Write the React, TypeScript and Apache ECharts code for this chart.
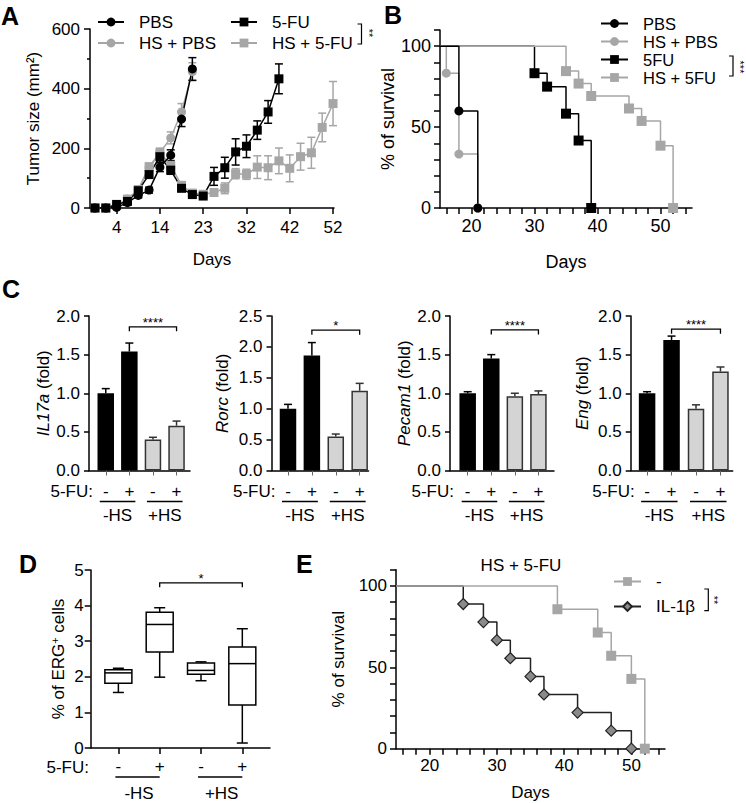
import React, { useEffect, useRef } from "react";
import * as echarts from "echarts";

const FONT = '"Liberation Sans", Arial, Helvetica, sans-serif';
const GRAY = "#a6a6a6";

// ---------- Panel A: tumor size ----------
const aDays = [0, 2, 4, 7, 9, 11, 14, 16, 18, 21, 23, 25, 28, 30, 32, 35, 37, 39, 42, 44, 46, 49, 52];
const aTickIdx = [2, 6, 10, 14, 18, 22];
const aPBS = [0, 0, 2, 18, 42, 60, 137, 177, 298, 466];
const aPBSErr = [0, 0, 3, 5, 8, 10, 15, 18, 25, 38];
const aHSPBS = [0, 0, 5, 30, 60, 135, 185, 235, 322, 457];
const aHSPBSErr = [0, 0, 3, 6, 10, 15, 15, 20, 28, 30];
const a5FU = [0, 0, 12, 22, 58, 112, 172, 127, 66, 45, 40, 106, 135, 188, 207, 261, 322, 433];
const a5FUErr = [0, 0, 4, 6, 8, 12, 18, 14, 10, 8, 8, 30, 35, 44, 38, 31, 38, 50];
const aHS5FU = [0, 0, 8, 30, 62, 138, 185, 143, 76, 50, 46, 52, 66, 115, 113, 137, 135, 158, 133, 172, 185, 270, 350];
const aHS5FUErr = [0, 0, 3, 6, 8, 12, 15, 15, 10, 8, 6, 10, 18, 17, 17, 38, 40, 43, 45, 45, 52, 48, 74];

// ---------- Panel B: survival ----------
const bPBSDays = [15, 18, 21];
const bPBSSurv = [100, 60, 0];
const bHSPBSDays = [15, 16, 18, 21];
const bHSPBSSurv = [100, 83.3, 33.3, 0];
const b5FUDays = [15, 30, 32, 35, 37, 39];
const b5FUSurv = [100, 83.3, 75, 58.3, 41.7, 0];
const bHS5FUDays = [15, 35, 37, 39, 45, 47, 50, 52];
const bHS5FUSurv = [100, 84.6, 76.9, 69.2, 61.5, 53.8, 38.5, 0];
const survTicks = [16, 18, 20, 22, 24, 26, 28, 30, 32, 34, 36, 38, 40, 42, 44, 46, 48, 50, 52, 54];
const survLabels = [20, 30, 40, 50];

// ---------- Panel C: qPCR bars ----------
const cGenes = ["IL17a", "Rorc", "Pecam1", "Eng"];
const cMax = [2.0, 2.5, 2.0, 2.0];
const cIL17a = [1.0, 1.54, 0.4, 0.58];
const cIL17aErr = [0.06, 0.11, 0.03, 0.06];
const cRorc = [1.0, 1.86, 0.55, 1.29];
const cRorcErr = [0.07, 0.21, 0.04, 0.12];
const cPecam1 = [1.0, 1.45, 0.96, 0.99];
const cPecam1Err = [0.02, 0.05, 0.04, 0.04];
const cEng = [1.0, 1.69, 0.8, 1.28];
const cEngErr = [0.02, 0.05, 0.05, 0.06];
const cSigY = [1.86, 2.27, 1.82, 1.83];
const cSigText = ["****", "*", "****", "****"];
const fuSigns = ["-", "+", "-", "+"];
const hsGroups = ["-HS", "+HS"];

// ---------- Panel D: box plots ----------
const dMin = [1.56, 1.99, 1.89, 0.14];
const dQ1 = [1.82, 2.7, 2.07, 1.21];
const dMedian = [2.11, 3.47, 2.18, 2.37];
const dQ3 = [2.2, 3.81, 2.39, 2.84];
const dMax = [2.24, 3.94, 2.42, 3.35];
const dSigY = 4.64;

// ---------- Panel E: survival IL-1b ----------
const eCtrlDays = [15, 39, 45, 47, 50, 52];
const eCtrlSurv = [100, 85.7, 71.4, 57.1, 42.9, 0];
const eILDays = [15, 25, 28, 30, 32, 35, 37, 42, 47, 50];
const eILSurv = [100, 88.9, 77.8, 66.7, 55.6, 44.4, 33.3, 22.2, 11.1, 0];

// ---------- layout ----------
const grids = [
  { left: 90, top: 29, width: 244, height: 179 }, // A
  { left: 440, top: 30, width: 252, height: 178 }, // B
  { left: 89, top: 316, width: 101, height: 154.5 }, // C1
  { left: 271.5, top: 316, width: 97, height: 154.5 }, // C2
  { left: 450, top: 316, width: 104, height: 154.5 }, // C3
  { left: 630.7, top: 316, width: 102, height: 154.5 }, // C4
  { left: 90.7, top: 570, width: 179.3, height: 178 }, // D
  { left: 396, top: 569.7, width: 269, height: 179 }, // E
];
const cXRange = [
  [-0.71, 3.57],
  [-0.69, 3.37],
  [-0.75, 3.66],
  [-0.67, 3.5],
];
const cNameGap = [29, 41, 37, 40];

const lineStyleAxis = { color: "#000", width: 1.5 };
const axLine = { show: true, onZero: false, lineStyle: lineStyleAxis };
const lbl = (size = 17, margin = 10) => ({ color: "#000", fontSize: size, fontFamily: FONT, margin });

function kmData(days: number[], surv: number[]) {
  return days.map((d, i) => (i === 0 ? { value: [d, surv[i]], symbol: "none" } : [d, surv[i]]));
}

function lineSeries(name: string, gi: number, data: any[], color: string, symbol: string, size: number, extra: any = {}) {
  return {
    type: "line",
    name,
    xAxisIndex: gi,
    yAxisIndex: gi,
    data,
    symbol,
    symbolSize: size,
    showSymbol: true,
    showAllSymbol: true,
    lineStyle: { color, width: 1.5 },
    itemStyle: { color, borderColor: color, borderWidth: 0 },
    emphasis: { disabled: true },
    silent: true,
    ...extra,
  };
}

function errSeries(gi: number, vals: number[], errs: number[], color: string, cap: number, oneSided: boolean, xs?: number[]) {
  return {
    type: "custom",
    xAxisIndex: gi,
    yAxisIndex: gi,
    silent: true,
    data: vals.map((v, i) => [xs ? xs[i] : i, v, errs[i]]),
    encode: { x: 0, y: 1 },
    renderItem: (params: any, api: any) => {
      const x = api.value(0);
      const y = api.value(1);
      const e = api.value(2);
      if (!e) return { type: "group", children: [] };
      const t = api.coord([x, y + e]);
      const b = api.coord([x, oneSided ? y : y - e]);
      const st = { stroke: color, lineWidth: 1.5 };
      const ch: any[] = [
        { type: "line", shape: { x1: t[0], y1: t[1], x2: b[0], y2: b[1] }, style: st },
        { type: "line", shape: { x1: t[0] - cap, y1: t[1], x2: t[0] + cap, y2: t[1] }, style: st },
      ];
      if (!oneSided) ch.push({ type: "line", shape: { x1: b[0] - cap, y1: b[1], x2: b[0] + cap, y2: b[1] }, style: st });
      return { type: "group", children: ch };
    },
  };
}

function bracketSeries(gi: number, x1: number, x2: number, y: number, label: string, drop: number, fontSize: number) {
  return {
    type: "custom",
    xAxisIndex: gi,
    yAxisIndex: gi,
    silent: true,
    data: [[x1, y, x2]],
    encode: { x: 0, y: 1 },
    renderItem: (params: any, api: any) => {
      const a = api.coord([api.value(0), api.value(1)]);
      const b = api.coord([api.value(2), api.value(1)]);
      return {
        type: "group",
        children: [
          {
            type: "polyline",
            shape: { points: [[a[0], a[1] + drop], [a[0], a[1]], [b[0], b[1]], [b[0], b[1] + drop]] },
            style: { stroke: "#000", lineWidth: 1.3, fill: null },
          },
          {
            type: "text",
            style: {
              text: label,
              x: (a[0] + b[0]) / 2,
              y: a[1] + 2,
              align: "center",
              verticalAlign: "bottom",
              font: `${fontSize}px ${FONT}`,
              fill: "#000",
            },
          },
        ],
      };
    },
  };
}

function groupSeries(gi: number, lineOff: number, textOff: number, padL: number, padR: number) {
  return {
    type: "custom",
    xAxisIndex: gi,
    yAxisIndex: gi,
    silent: true,
    data: [
      [0, 0, 1],
      [2, 0, 3],
    ],
    encode: { x: 0, y: 1 },
    renderItem: (params: any, api: any) => {
      const a = api.coord([api.value(0), 0]);
      const b = api.coord([api.value(2), 0]);
      const yl = a[1] + lineOff;
      return {
        type: "group",
        children: [
          {
            type: "line",
            shape: { x1: a[0] - padL, y1: yl, x2: b[0] + padR, y2: yl },
            style: { stroke: "#000", lineWidth: 1.3 },
          },
          {
            type: "text",
            style: {
              text: hsGroups[params.dataIndex],
              x: (a[0] + b[0]) / 2,
              y: a[1] + textOff,
              align: "center",
              verticalAlign: "middle",
              font: `17px ${FONT}`,
              fill: "#000",
            },
          },
        ],
      };
    },
  };
}

function barSeries(gi: number, vals: number[]) {
  return {
    type: "bar",
    xAxisIndex: gi,
    yAxisIndex: gi,
    barWidth: 16.5,
    silent: true,
    data: vals.map((v, i) => ({
      value: [i, v],
      itemStyle:
        i < 2
          ? { color: "#000", borderColor: "#000", borderWidth: 0 }
          : { color: "#d4d4d4", borderColor: "#333", borderWidth: 1.5 },
    })),
  };
}

function boxSeries(gi: number) {
  return {
    type: "custom",
    xAxisIndex: gi,
    yAxisIndex: gi,
    silent: true,
    data: dMin.map((m, i) => [i, m, dQ1[i], dMedian[i], dQ3[i], dMax[i]]),
    encode: { x: 0, y: 1 },
    renderItem: (params: any, api: any) => {
      const x = api.value(0);
      const c = (d: number) => api.coord([x, api.value(d)]);
      const pMn = c(1), pQ1 = c(2), pMd = c(3), pQ3 = c(4), pMx = c(5);
      const half = 13.5;
      const cap = 5.5;
      const st = { stroke: "#000", lineWidth: 1.5 };
      return {
        type: "group",
        children: [
          { type: "line", shape: { x1: pMx[0], y1: pMx[1], x2: pQ3[0], y2: pQ3[1] }, style: st },
          { type: "line", shape: { x1: pMx[0] - cap, y1: pMx[1], x2: pMx[0] + cap, y2: pMx[1] }, style: st },
          { type: "line", shape: { x1: pMn[0], y1: pMn[1], x2: pQ1[0], y2: pQ1[1] }, style: st },
          { type: "line", shape: { x1: pMn[0] - cap, y1: pMn[1], x2: pMn[0] + cap, y2: pMn[1] }, style: st },
          {
            type: "rect",
            shape: { x: pQ3[0] - half, y: pQ3[1], width: half * 2, height: pQ1[1] - pQ3[1] },
            style: { stroke: "#000", lineWidth: 1.5, fill: "#fff" },
          },
          { type: "line", shape: { x1: pMd[0] - half, y1: pMd[1], x2: pMd[0] + half, y2: pMd[1] }, style: st },
        ],
      };
    },
  };
}

function buildOption() {
  const xAxes: any[] = [];
  const yAxes: any[] = [];

  // A
  xAxes.push({
    gridIndex: 0,
    type: "value",
    min: -0.46,
    max: 22.09,
    name: "Days",
    nameLocation: "middle",
    nameGap: 43,
    nameTextStyle: { color: "#000", fontSize: 17, fontFamily: FONT },
    axisLine: axLine,
    axisTick: { customValues: aTickIdx, length: 6, lineStyle: lineStyleAxis },
    axisLabel: { ...lbl(17, 11), customValues: aTickIdx, formatter: (v: number) => String(aDays[v]) },
    splitLine: { show: false },
  });
  yAxes.push({
    gridIndex: 0,
    type: "value",
    min: 0,
    max: 600,
    interval: 200,
    name: "Tumor size (mm²)",
    nameLocation: "middle",
    nameGap: 48,
    nameTextStyle: { color: "#000", fontSize: 17, fontFamily: FONT },
    axisLine: axLine,
    axisTick: { show: true, length: 6, lineStyle: lineStyleAxis },
    minorTick: { show: true, splitNumber: 2, length: 3, lineStyle: lineStyleAxis },
    axisLabel: lbl(17, 10),
    splitLine: { show: false },
  });

  // B and E survival axes
  const survX = (gi: number, gap: number, size: number, margin: number) => ({
    gridIndex: gi,
    type: "value",
    min: 15,
    max: 55,
    name: "Days",
    nameLocation: "middle",
    nameGap: gap,
    nameTextStyle: { color: "#000", fontSize: size, fontFamily: FONT },
    axisLine: axLine,
    axisTick: { customValues: survTicks, length: 6, lineStyle: lineStyleAxis },
    axisLabel: { ...lbl(size, margin), customValues: survLabels },
    splitLine: { show: false },
  });
  const survY = (gi: number, gap: number, size: number) => ({
    gridIndex: gi,
    type: "value",
    min: 0,
    max: 110,
    interval: 10,
    name: "% of survival",
    nameLocation: "middle",
    nameGap: gap,
    nameTextStyle: { color: "#000", fontSize: size, fontFamily: FONT },
    axisLine: axLine,
    axisTick: { show: true, length: 6, lineStyle: lineStyleAxis },
    axisLabel: { ...lbl(size, 9), customValues: [0, 50, 100] },
    splitLine: { show: false },
  });
  xAxes.push(survX(1, 45, 18, 9));
  yAxes.push(survY(1, 43, 18));

  // C
  for (let k = 0; k < 4; k++) {
    xAxes.push({
      gridIndex: 2 + k,
      type: "value",
      min: cXRange[k][0],
      max: cXRange[k][1],
      axisLine: axLine,
      axisTick: { customValues: [0, 1, 2, 3], length: 5, lineStyle: { color: "#666", width: 1 } },
      axisLabel: { ...lbl(17, 12), customValues: [0, 1, 2, 3], formatter: (v: number) => fuSigns[v] },
      splitLine: { show: false },
    });
    yAxes.push({
      gridIndex: 2 + k,
      type: "value",
      min: 0,
      max: cMax[k],
      interval: 0.5,
      name: `{i|${cGenes[k]}} (fold)`,
      nameLocation: "middle",
      nameGap: cNameGap[k],
      nameTextStyle: {
        color: "#000",
        fontSize: 17,
        fontFamily: FONT,
        rich: { i: { fontStyle: "italic", fontSize: 17, fontFamily: FONT, color: "#000" } },
      },
      axisLine: axLine,
      axisTick: { show: true, length: 5, lineStyle: lineStyleAxis },
      axisLabel: { ...lbl(17, 9), formatter: (v: number) => v.toFixed(1) },
      splitLine: { show: false },
    });
  }

  // D
  xAxes.push({
    gridIndex: 6,
    type: "value",
    min: -0.67,
    max: 3.67,
    axisLine: axLine,
    axisTick: { customValues: [0, 1, 2, 3], length: 6, lineStyle: lineStyleAxis },
    axisLabel: { ...lbl(17, 10), customValues: [0, 1, 2, 3], formatter: (v: number) => fuSigns[v] },
    splitLine: { show: false },
  });
  yAxes.push({
    gridIndex: 6,
    type: "value",
    min: 0,
    max: 5,
    interval: 1,
    name: "% of ERG{s|+} cells",
    nameLocation: "middle",
    nameGap: 24,
    nameTextStyle: {
      color: "#000",
      fontSize: 17,
      fontFamily: FONT,
      rich: { s: { fontSize: 11, fontFamily: FONT, color: "#000", verticalAlign: "top", lineHeight: 17 } },
    },
    axisLine: axLine,
    axisTick: { show: true, length: 6, lineStyle: lineStyleAxis },
    axisLabel: lbl(17, 7),
    splitLine: { show: false },
  });

  // E
  xAxes.push(survX(7, 35, 17, 8));
  yAxes.push(survY(7, 49, 17));

  const series: any[] = [];
  // A
  const idx = (arr: number[]) => arr.map((v, i) => [i, v]);
  series.push(errSeries(0, aHSPBS, aHSPBSErr, GRAY, 4, false));
  series.push(lineSeries("HS + PBS", 0, idx(aHSPBS), GRAY, "circle", 9));
  series.push(errSeries(0, aHS5FU, aHS5FUErr, GRAY, 4, false));
  series.push(lineSeries("HS + 5-FU", 0, idx(aHS5FU), GRAY, "rect", 9));
  series.push(errSeries(0, a5FU, a5FUErr, "#000", 4, false));
  series.push(lineSeries("5-FU", 0, idx(a5FU), "#000", "rect", 9));
  series.push(errSeries(0, aPBS, aPBSErr, "#000", 4, false));
  series.push(lineSeries("PBS", 0, idx(aPBS), "#000", "circle", 9));

  // B
  series.push(lineSeries("5FU", 1, kmData(b5FUDays, b5FUSurv), "#000", "rect", 10, { step: "end" }));
  series.push(lineSeries("HS + 5FU", 1, kmData(bHS5FUDays, bHS5FUSurv), GRAY, "rect", 10, { step: "end" }));
  series.push(lineSeries("HS + PBS ", 1, kmData(bHSPBSDays, bHSPBSSurv), GRAY, "circle", 9, { step: "end" }));
  series.push(lineSeries("PBS ", 1, kmData(bPBSDays, bPBSSurv), "#000", "circle", 9, { step: "end" }));

  // C
  const cVals = [cIL17a, cRorc, cPecam1, cEng];
  const cErrs = [cIL17aErr, cRorcErr, cPecam1Err, cEngErr];
  for (let k = 0; k < 4; k++) {
    const gi = 2 + k;
    series.push(barSeries(gi, cVals[k]));
    series.push(errSeries(gi, cVals[k].slice(0, 2), cErrs[k].slice(0, 2), "#000", 4, true, [0, 1]));
    series.push(errSeries(gi, cVals[k].slice(2), cErrs[k].slice(2), "#333", 4, true, [2, 3]));
    series.push(bracketSeries(gi, 1, 3, cSigY[k], cSigText[k], 4.5, 13));
    series.push(groupSeries(gi, 31, 45, 6, 6));
  }

  // D
  series.push(boxSeries(6));
  series.push(bracketSeries(6, 1, 3, dSigY, "*", 4.5, 13));
  series.push(groupSeries(6, 29, 45, 3, 0));

  // E
  series.push(
    lineSeries("IL-1β", 7, kmData(eILDays, eILSurv), "#222", "diamond", 11, {
      step: "end",
      itemStyle: { color: "#8a8a8a", borderColor: "#222", borderWidth: 1.2 },
    })
  );
  series.push(lineSeries("-", 7, kmData(eCtrlDays, eCtrlSurv), GRAY, "rect", 10, { step: "end" }));

  const legendText = (lh: number, size = 17) => ({
    color: "#000",
    fontSize: size,
    fontFamily: FONT,
    lineHeight: lh,
    padding: [0, 0, 0, 10],
  });
  const legends = [
    {
      data: ["PBS", "HS + PBS"],
      orient: "vertical",
      left: 97,
      top: 13.5,
      itemWidth: 26,
      itemHeight: 11,
      itemGap: 4,
      padding: 0,
      selectedMode: false,
      textStyle: legendText(17),
    },
    {
      data: ["5-FU", "HS + 5-FU"],
      orient: "vertical",
      left: 230,
      top: 13.5,
      itemWidth: 26,
      itemHeight: 11,
      itemGap: 4,
      padding: 0,
      selectedMode: false,
      textStyle: legendText(17),
    },
    {
      data: ["PBS ", "HS + PBS ", "5FU", "HS + 5FU"],
      formatter: (n: string) => n.trim(),
      orient: "vertical",
      left: 600,
      top: 15,
      itemWidth: 27,
      itemHeight: 11,
      itemGap: 1,
      padding: 0,
      selectedMode: false,
      textStyle: legendText(15.5, 16.5),
    },
    {
      data: ["-", "IL-1β"],
      orient: "vertical",
      left: 613,
      top: 573,
      itemWidth: 27,
      itemHeight: 11,
      itemGap: 8,
      padding: 0,
      selectedMode: false,
      textStyle: legendText(17),
    },
  ];

  const txt = (text: string, x: number, y: number, size: number, extra: any = {}) => ({
    type: "text",
    x,
    y,
    style: { text, font: `${extra.bold ? "bold " : ""}${size}px ${FONT}`, fill: "#000", align: extra.align || "left", verticalAlign: "middle" },
    rotation: extra.rotation || 0,
    silent: true,
  });
  const bracket = (x: number, y1: number, y2: number, w: number) => ({
    type: "polyline",
    shape: { points: [[x - w, y1], [x, y1], [x, y2], [x - w, y2]] },
    style: { stroke: "#000", lineWidth: 1.2, fill: null },
    silent: true,
  });

  const graphic = [
    txt("A", 1, 16, 25, { bold: true }),
    txt("B", 384, 15, 25, { bold: true }),
    txt("C", 2, 289, 25, { bold: true }),
    txt("D", 19, 564, 25, { bold: true }),
    txt("E", 296, 564, 25, { bold: true }),
    bracket(361.5, 24, 44, 4),
    txt("**", 369, 33, 11, { align: "center", rotation: -Math.PI / 2 }),
    bracket(733, 56, 76, 4),
    txt("***", 739.5, 67, 11, { align: "center", rotation: -Math.PI / 2 }),
    bracket(708.3, 589, 610.7, 4),
    txt("**", 714, 600, 11, { align: "center", rotation: -Math.PI / 2 }),
    txt("HS + 5-FU", 521, 565, 17, { align: "center" }),
    ...[2, 3, 4, 5].map((gi) => txt("5-FU:", grids[gi].left + 4, 491, 17, { align: "right" })),
    txt("5-FU:", 89, 767, 17, { align: "right" }),
  ];

  return {
    animation: false,
    backgroundColor: "#fff",
    textStyle: { fontFamily: FONT },
    grid: grids.map((g) => ({ ...g, containLabel: false })),
    xAxis: xAxes,
    yAxis: yAxes,
    legend: legends,
    series,
    graphic,
  };
}

export default function App() {
  const ref = useRef<HTMLDivElement>(null);
  useEffect(() => {
    if (!ref.current) return;
    const chart = echarts.init(ref.current, null, { renderer: "svg" });
    chart.setOption(buildOption() as any);
    return () => chart.dispose();
  }, []);
  return (
    <div
      ref={ref}
      style={{ position: "absolute", left: 0, top: 0, width: 746, height: 803, background: "#fff" }}
    />
  );
}
